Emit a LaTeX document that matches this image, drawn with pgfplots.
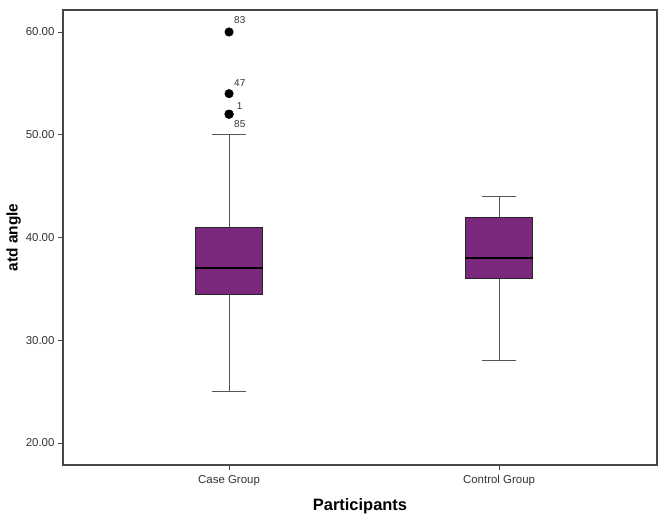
\documentclass[border=0pt]{standalone}
\usepackage{fontspec}
\setmainfont{Liberation Sans}
\usepackage{pgfplots}
\pgfplotsset{compat=1.18}
\definecolor{boxpurple}{RGB}{122,40,124}
\definecolor{axisgray}{RGB}{70,70,70}
\definecolor{whiskgray}{RGB}{85,85,85}
\begin{document}
\begin{tikzpicture}
\path[use as bounding box] (0,0) rectangle (661bp,514bp);
\begin{axis}[
  at={(63bp,49bp)}, anchor=south west,
  scale only axis, width=594bp, height=455bp,
  xmin=0.385, xmax=2.585, ymin=17.86, ymax=62.14,
  xtick={1,2}, xticklabels={Case Group, Control Group},
  ytick={20,30,40,50,60},
  xtick pos=lower, ytick pos=left, tick align=outside,
  major tick length=5bp,
  axis line style={axisgray, line width=1.2pt},
  every tick/.style={axisgray, line width=0.9pt},
  yticklabel style={/pgf/number format/fixed, /pgf/number format/fixed zerofill,
    /pgf/number format/precision=2, /pgf/number format/assume math mode=true},
  tick label style={font=\fontsize{11.5}{13}\selectfont, text=black!80},
  xticklabel style={yshift=-2bp},
  xlabel={\textbf{Participants}},
  ylabel={\textbf{atd angle}},
  xlabel style={font=\fontsize{16.5}{19}\selectfont, yshift=-6bp},
  ylabel style={font=\fontsize{15.5}{18}\selectfont, yshift=-2bp},
  clip=false,
]
% whiskers (Case Group)
\addplot[whiskgray, line width=1pt] coordinates {(1,25) (1,34.5)};
\addplot[whiskgray, line width=1pt] coordinates {(1,41) (1,50)};
\addplot[whiskgray, line width=1pt] coordinates {(0.9375,25) (1.0625,25)};
\addplot[whiskgray, line width=1pt] coordinates {(0.9375,50) (1.0625,50)};
% whiskers (Control Group)
\addplot[whiskgray, line width=1pt] coordinates {(2,28) (2,36)};
\addplot[whiskgray, line width=1pt] coordinates {(2,42) (2,44)};
\addplot[whiskgray, line width=1pt] coordinates {(1.9375,28) (2.0625,28)};
\addplot[whiskgray, line width=1pt] coordinates {(1.9375,44) (2.0625,44)};
% boxes
\addplot[fill=boxpurple, draw=black!85, line width=0.7pt]
  coordinates {(0.875,34.5) (1.125,34.5) (1.125,41) (0.875,41)} -- cycle;
\addplot[fill=boxpurple, draw=black!85, line width=0.7pt]
  coordinates {(1.875,36) (2.125,36) (2.125,42) (1.875,42)} -- cycle;
% medians
\addplot[black, line width=2.2pt] coordinates {(0.875,37) (1.125,37)};
\addplot[black, line width=2.2pt] coordinates {(1.875,38) (2.125,38)};
% outliers
\addplot[only marks, mark=*, mark size=4.3bp, mark options={fill=black, draw=black}]
  coordinates {(1,60) (1,54) (1,52) (1,52)};
\node[anchor=west, font=\fontsize{10}{12}\selectfont, text=black!80, inner sep=0pt] at (axis cs:1.0185,61.17) {83};
\node[anchor=west, font=\fontsize{10}{12}\selectfont, text=black!80, inner sep=0pt] at (axis cs:1.0185,55.0) {47};
\node[anchor=west, font=\fontsize{10}{12}\selectfont, text=black!80, inner sep=0pt] at (axis cs:1.028,52.8) {1};
\node[anchor=west, font=\fontsize{10}{12}\selectfont, text=black!80, inner sep=0pt] at (axis cs:1.0185,51.0) {85};
\end{axis}
\end{tikzpicture}
\end{document}
